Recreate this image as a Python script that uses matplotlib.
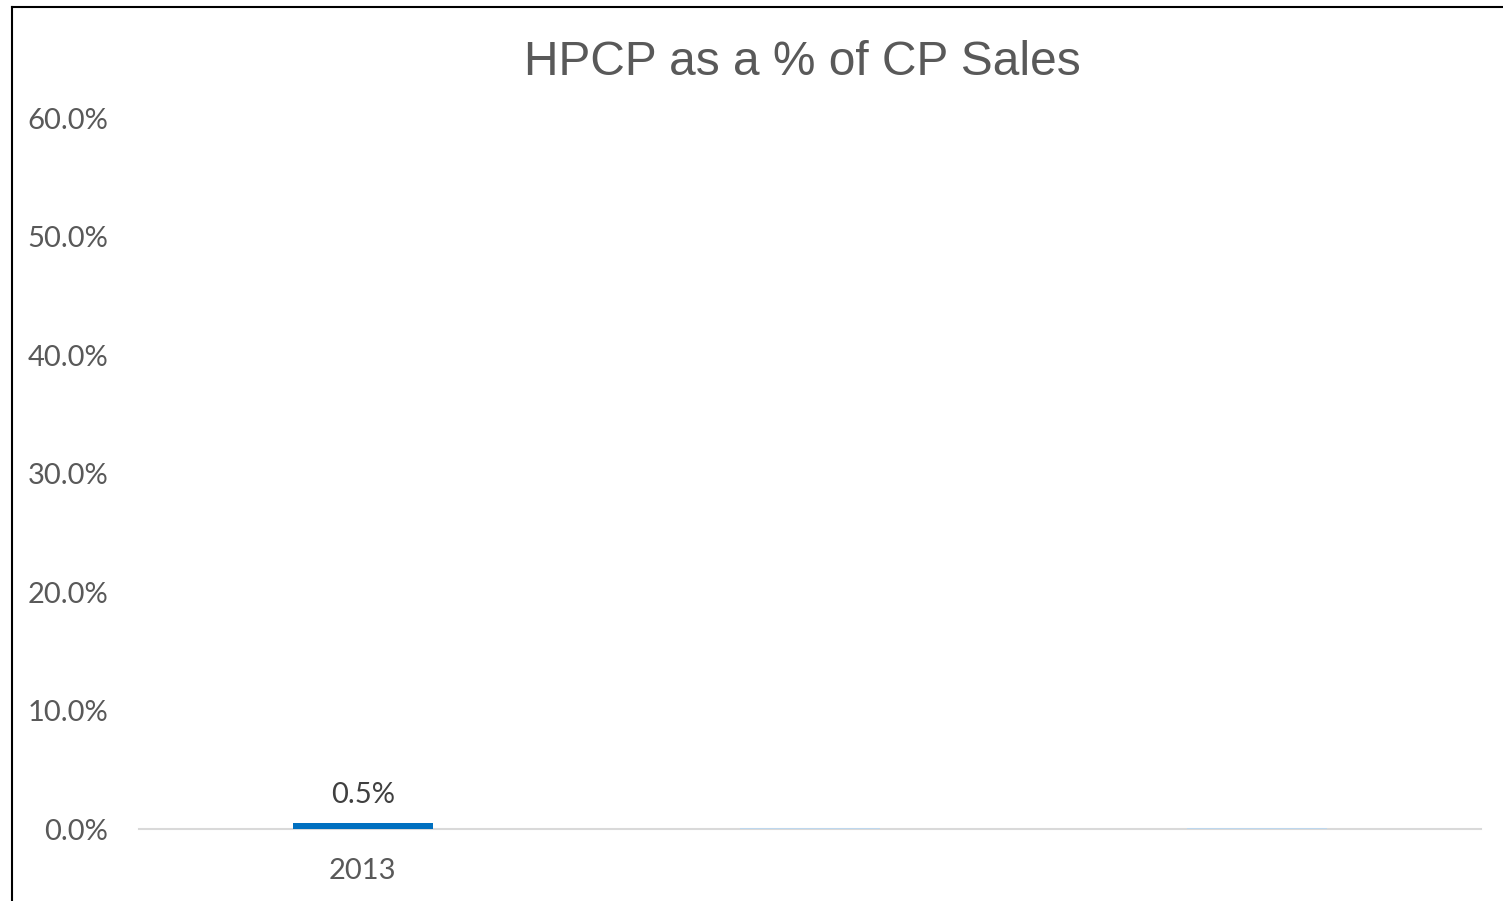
import matplotlib.pyplot as plt
from matplotlib.lines import Line2D

# values for each category (percent)
categories = ['2013', '', '']
shares = [0.5, 0.1, 0.1]
bar_colors = ['#0070C0', '#BDD7EE', '#BDD7EE']
value_labels = ['0.5%', '', '']
y_ticks = [0, 10, 20, 30, 40, 50, 60]

plt.rcParams['font.family'] = ['Lato', 'DejaVu Sans']

fig = plt.figure(figsize=(15.03, 9.01), dpi=100)
ax = fig.add_axes([0.0925, 0.0799, 0.8929, 0.7891])

x = range(len(categories))
bars = ax.bar(x, shares, width=0.313, color=bar_colors, zorder=3)

ax.set_xlim(-0.5, len(categories) - 0.5)
ax.set_ylim(0, 60)
ax.set_yticks(y_ticks)
ax.set_yticklabels([f'{t:.1f}%' for t in y_ticks])
ax.set_xticks(list(x))
ax.set_xticklabels(categories)
ax.tick_params(axis='both', length=0, labelsize=21, colors='#595959')
ax.tick_params(axis='y', pad=22)
ax.tick_params(axis='x', pad=21)

for side in ['top', 'right', 'left']:
    ax.spines[side].set_visible(False)
ax.spines['bottom'].set_color('#D9D9D9')
ax.spines['bottom'].set_linewidth(1.5)
ax.spines['bottom'].set_zorder(2)

for b, lab in zip(bars, value_labels):
    if lab:
        ax.annotate(lab, (b.get_x() + b.get_width() / 2, b.get_height()),
                    xytext=(0, 11), textcoords='offset points',
                    ha='center', va='bottom', fontsize=21, color='#404040')

fig.text(0.534, 0.931, 'HPCP as a % of CP Sales', ha='center', va='center',
         fontsize=34.5, color='#595959', family='Liberation Sans')

# frame edges of the chart area
fig.add_artist(Line2D([12 / 1503, 12 / 1503], [0, 1 - 7 / 901],
                      transform=fig.transFigure, color='black', lw=1.5))
fig.add_artist(Line2D([12 / 1503, 1], [1 - 7 / 901, 1 - 7 / 901],
                      transform=fig.transFigure, color='black', lw=1.5))

fig.savefig('out.png', dpi=100, facecolor='white')
